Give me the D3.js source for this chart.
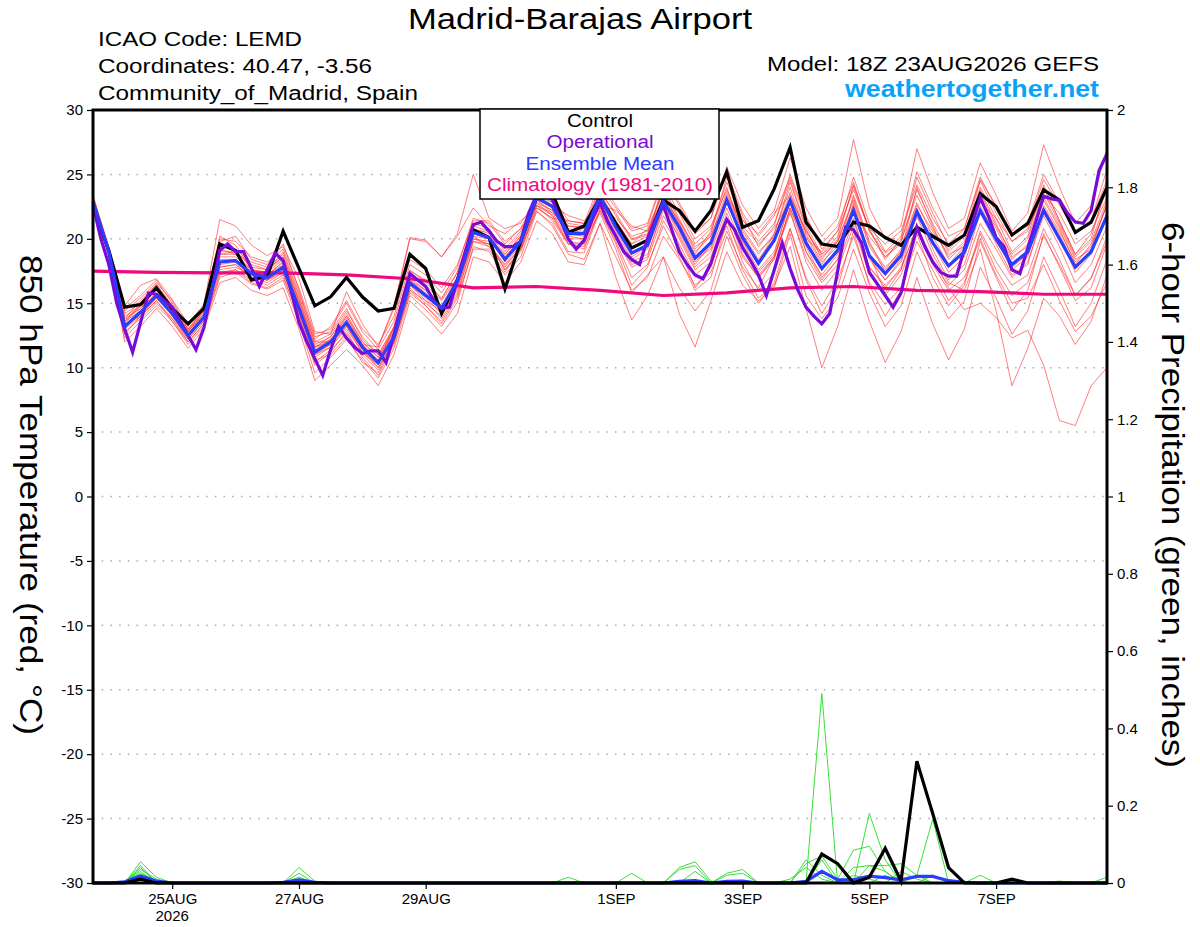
<!DOCTYPE html>
<html>
<head>
<meta charset="utf-8">
<script src="https://cdn.jsdelivr.net/npm/d3@7"></script>
<style>
body { margin: 0; background: #fff; }
text { font-family: "Liberation Sans", Arial, Helvetica, sans-serif; }
</style>
</head>
<body>
<svg id="chart" width="1200" height="927"></svg>
<script>
// ---- data (6-hourly from 18Z 23AUG2026, 65 steps) ----
var runStart = Date.UTC(2026, 7, 23, 18);
var tempTicks = [30, 25, 20, 15, 10, 5, 0, -5, -10, -15, -20, -25, -30];
var precipTicks = [0, 0.2, 0.4, 0.6, 0.8, 1, 1.2, 1.4, 1.6, 1.8, 2];
var tickDays = ["2026-08-25", "2026-08-27", "2026-08-29", "2026-09-01", "2026-09-03", "2026-09-05", "2026-09-07"];
var tickLabels = ["25AUG", "27AUG", "29AUG", "1SEP", "3SEP", "5SEP", "7SEP"];
var legendNames = ["Control", "Operational", "Ensemble Mean", "Climatology (1981-2010)"];

var control = [
  22.4, 19.1, 14.7, 14.9, 16.2, 14.6, 13.4, 14.6, 19.6, 19.1, 16.8, 17.1, 20.6,
  17.7, 14.8, 15.5, 17.0, 15.5, 14.4, 14.6, 18.8, 17.7, 14.2, 16.8, 20.7, 20.1,
  16.1, 19.8, 23.2, 23.5, 20.5, 21.0, 23.2, 21.2, 19.3, 19.9, 23.0, 22.2, 20.6,
  22.2, 25.2, 20.9, 21.4, 23.9, 27.1, 21.3, 19.6, 19.4, 21.3, 21.0, 20.1, 19.5,
  20.9, 20.2, 19.5, 20.3, 23.5, 22.5, 20.3, 21.2, 23.8, 23.0, 20.5, 21.3, 24.0
];
var ensMean = [
  22.9, 19.0, 13.2, 14.3, 15.6, 14.2, 12.5, 13.9, 18.2, 18.3, 17.3, 17.0, 17.8,
  14.6, 11.2, 12.0, 13.5, 11.6, 10.4, 12.4, 16.6, 15.6, 14.6, 16.7, 20.5, 20.1,
  18.4, 19.8, 23.2, 22.5, 20.4, 20.4, 23.3, 20.9, 18.9, 19.5, 22.9, 20.9, 18.5,
  19.7, 23.0, 20.1, 18.1, 19.9, 23.0, 19.7, 17.7, 19.1, 22.2, 18.7, 17.3, 18.7,
  22.1, 19.7, 17.9, 19.0, 22.2, 20.0, 18.0, 19.0, 22.2, 20.0, 17.8, 19.0, 21.8
];
// operational run is 3-hourly (129 steps)
var operational = [
  22.6, 20.0, 18.0, 15.0, 13.0, 11.2, 13.5, 15.8, 15.7, 15.2, 14.7, 13.6, 12.5,
  11.4, 13.1, 16.0, 19.1, 19.6, 19.0, 19.0, 17.7, 16.3, 17.6, 18.9, 18.3, 16.0,
  13.5, 12.0, 10.7, 9.4, 11.4, 13.2, 12.3, 11.6, 11.1, 11.3, 11.3, 10.4, 12.6,
  15.0, 17.3, 16.8, 16.3, 15.2, 14.6, 14.7, 16.8, 19.0, 21.1, 21.3, 20.6, 19.8,
  19.4, 19.4, 19.8, 22.0, 23.4, 23.6, 23.0, 21.5, 20.0, 19.2, 19.9, 21.5, 22.8,
  21.3, 20.2, 19.0, 18.4, 18.0, 20.0, 21.5, 22.6, 20.8, 19.0, 18.0, 17.2, 16.9,
  18.1, 20.0, 21.5, 20.7, 19.3, 18.3, 17.2, 15.6, 17.6, 19.7, 17.7, 16.0, 14.7,
  14.0, 13.4, 14.2, 17.5, 20.9, 20.7, 19.7, 17.4, 16.5, 15.6, 14.7, 15.8, 18.5,
  20.9, 19.4, 18.2, 17.4, 17.1, 17.1, 19.2, 21.2, 23.2, 21.8, 20.1, 19.4, 17.6,
  17.3, 19.3, 21.3, 23.3, 23.1, 23.0, 22.0, 21.3, 21.2, 22.2, 25.3, 26.6
];
// climatology, daily at 18Z
var climatology = [17.5, 17.4, 17.35, 17.35, 17.2, 16.9, 16.2, 16.3, 16.0, 15.6, 15.8, 16.2, 16.3, 16.0, 15.9, 15.7, 15.7];

var members = [
  [23.2, 19.3, 14.2, 15.0, 16.5, 14.8, 12.9, 14.5, 20.2, 19.5, 17.6, 17.4, 19.0,
   15.8, 12.4, 12.8, 14.6, 12.2, 11.0, 13.1, 17.5, 16.8, 15.3, 17.4, 21.2, 20.8,
   19.0, 20.4, 23.6, 22.8, 21.0, 20.9, 23.8, 21.8, 19.9, 20.3, 24.2, 22.0, 19.6,
   20.8, 24.4, 21.5, 19.8, 21.2, 24.6, 21.0, 18.8, 20.2, 24.1, 20.6, 18.9, 19.8,
   23.8, 21.2, 19.0, 20.2, 24.5, 22.0, 19.8, 20.6, 24.0, 21.4, 18.8, 20.4, 23.9],
  [22.6, 18.7, 12.3, 13.6, 14.8, 13.6, 11.8, 13.2, 17.0, 17.4, 16.5, 16.1, 16.8,
   13.5, 9.6, 10.8, 12.2, 10.6, 9.2, 11.5, 15.6, 14.5, 13.2, 15.1, 19.4, 19.0,
   17.2, 18.6, 22.1, 21.2, 19.0, 18.9, 22.2, 19.6, 16.4, 17.8, 21.4, 19.4, 16.2,
   17.8, 21.6, 18.2, 16.0, 17.4, 20.8, 17.0, 14.8, 16.8, 20.2, 16.6, 14.9, 16.2,
   19.8, 17.6, 15.2, 16.6, 20.6, 18.2, 16.4, 17.2, 20.8, 18.4, 15.6, 16.9, 20.2],
  [23.4, 19.2, 14.8, 16.4, 16.9, 15.3, 13.4, 14.9, 21.5, 21.0, 19.5, 18.7, 19.4,
   16.9, 12.8, 12.6, 15.9, 13.4, 11.6, 14.8, 20.1, 19.9, 18.6, 20.4, 25.0, 21.6,
   20.8, 21.2, 23.0, 22.6, 21.8, 21.4, 22.8, 21.4, 19.6, 20.8, 23.6, 21.2, 18.8,
   20.6, 24.0, 20.4, 18.4, 20.0, 23.6, 20.2, 18.0, 19.8, 23.0, 19.4, 17.6, 19.2,
   22.8, 20.2, 18.0, 19.4, 23.2, 20.8, 18.4, 19.6, 23.0, 20.8, 18.0, 19.6, 22.6],
  [22.8, 19.0, 13.4, 14.0, 15.4, 14.0, 12.2, 13.6, 17.8, 18.0, 17.0, 16.6, 17.4,
   14.2, 10.8, 11.6, 13.0, 11.2, 10.0, 12.0, 16.2, 15.0, 14.0, 16.2, 20.0, 19.6,
   18.0, 19.2, 22.6, 21.8, 19.8, 19.6, 22.6, 20.4, 18.2, 18.8, 22.2, 20.2, 17.8,
   19.0, 22.4, 19.4, 17.2, 18.6, 22.0, 18.6, 16.6, 18.0, 21.4, 17.8, 16.4, 17.6,
   21.0, 18.4, 16.2, 14.5, 15.0, 13.9, 12.3, 12.9, 10.2, 5.9, 5.5, 8.6, 10.0],
  [23.0, 19.1, 13.0, 14.6, 15.8, 14.4, 12.6, 14.0, 18.6, 18.6, 17.6, 17.2, 18.2,
   14.8, 11.4, 12.2, 13.8, 11.8, 10.6, 12.8, 17.0, 16.0, 14.8, 16.8, 20.6, 20.2,
   18.6, 19.8, 23.0, 22.2, 20.2, 20.0, 22.0, 19.2, 15.8, 17.2, 18.6, 14.2, 11.6,
   15.2, 19.0, 16.4, 15.2, 16.2, 20.4, 15.6, 13.8, 15.4, 19.2, 15.8, 13.2, 14.8,
   19.0, 16.2, 13.8, 15.2, 19.8, 17.0, 14.4, 16.0, 20.4, 17.8, 15.2, 16.2, 19.6],
  [23.1, 19.2, 13.6, 14.8, 16.0, 14.6, 12.8, 14.2, 18.8, 19.0, 17.8, 17.6, 18.6,
   15.2, 11.8, 12.4, 14.2, 12.0, 10.8, 13.0, 17.2, 16.4, 15.2, 17.0, 20.8, 20.4,
   18.8, 20.2, 23.4, 22.8, 21.2, 21.0, 24.0, 22.4, 20.6, 21.0, 24.6, 22.6, 20.4,
   21.6, 25.6, 22.6, 20.8, 22.2, 26.3, 22.4, 20.2, 21.6, 27.7, 22.4, 20.0, 21.0,
   27.0, 23.6, 20.8, 21.6, 25.9, 23.4, 20.6, 22.0, 27.3, 24.0, 21.2, 22.6, 27.0],
  [22.7, 18.8, 12.8, 13.8, 15.0, 13.8, 12.0, 13.4, 17.4, 17.6, 16.8, 16.4, 17.2,
   13.8, 10.2, 11.2, 12.8, 10.8, 9.4, 11.8, 16.0, 15.2, 14.4, 16.4, 20.0, 19.8,
   17.6, 19.0, 22.4, 21.6, 19.6, 19.2, 22.4, 20.0, 17.8, 18.4, 21.8, 19.6, 17.2,
   18.2, 21.0, 17.6, 15.4, 16.4, 19.4, 14.6, 10.0, 13.2, 17.6, 13.6, 10.4, 12.8,
   17.0, 13.4, 10.6, 13.0, 17.8, 15.4, 12.6, 14.4, 18.6, 16.0, 13.2, 15.0, 18.4],
  [23.0, 19.0, 13.8, 15.2, 16.4, 14.8, 13.0, 14.4, 19.4, 19.2, 18.2, 17.8, 18.8,
   15.6, 12.0, 12.0, 13.4, 11.4, 10.2, 12.6, 16.8, 15.8, 14.6, 16.6, 20.6, 20.6,
   18.2, 20.0, 23.8, 23.0, 20.8, 20.4, 23.2, 21.0, 18.6, 19.4, 23.2, 21.0, 18.6,
   19.6, 23.4, 20.6, 18.8, 20.4, 24.0, 20.4, 18.2, 19.4, 22.6, 18.6, 16.8, 18.2,
   21.8, 18.8, 16.6, 16.0, 19.2, 14.4, 8.6, 11.5, 15.4, 14.0, 11.8, 13.6, 17.2],
  [22.5, 18.6, 12.0, 13.2, 14.6, 13.2, 11.5, 13.0, 16.6, 17.0, 16.0, 15.6, 16.2,
   13.0, 9.0, 10.2, 11.4, 10.2, 8.6, 11.0, 15.2, 14.0, 12.6, 14.2, 18.6, 18.2,
   16.6, 18.2, 21.4, 20.4, 18.2, 18.0, 21.2, 18.6, 16.0, 17.0, 20.2, 18.4, 16.4,
   17.4, 20.6, 17.8, 16.2, 18.6, 22.4, 19.0, 17.2, 18.8, 21.6, 17.8, 16.2, 17.8,
   20.8, 18.2, 16.4, 17.6, 21.2, 19.2, 17.0, 18.2, 21.8, 19.4, 16.6, 18.0, 21.0],
  [23.3, 19.4, 14.6, 15.6, 16.8, 15.0, 13.2, 14.8, 20.0, 19.8, 18.6, 18.2, 19.2,
   16.2, 12.6, 13.0, 15.0, 12.8, 11.4, 13.6, 18.0, 17.2, 15.8, 17.8, 21.6, 21.2,
   19.6, 20.8, 23.2, 22.4, 20.6, 20.6, 23.6, 22.0, 20.0, 20.4, 24.0, 21.6, 19.2,
   20.4, 24.8, 21.8, 19.4, 21.0, 25.0, 21.8, 19.2, 20.6, 24.8, 21.2, 19.0, 20.2,
   25.2, 22.4, 20.2, 20.8, 24.6, 22.6, 20.2, 21.2, 25.0, 22.8, 20.4, 21.4, 25.4],
  [22.9, 19.0, 13.6, 14.4, 15.8, 14.4, 12.6, 14.0, 18.4, 18.4, 17.4, 17.2, 18.0,
   14.8, 11.6, 12.2, 13.6, 11.8, 11.6, 14.6, 20.0, 19.8, 18.6, 20.2, 22.4, 21.0,
   20.4, 21.4, 22.4, 21.6, 21.4, 21.2, 22.6, 22.2, 21.0, 20.6, 23.0, 21.4, 19.4,
   20.2, 23.2, 21.4, 20.4, 22.0, 23.4, 20.6, 18.8, 19.8, 22.0, 20.2, 18.6, 19.6,
   21.6, 20.4, 19.2, 20.4, 22.8, 21.6, 19.8, 20.8, 23.4, 22.0, 19.6, 20.6, 23.2],
  [23.1, 19.1, 13.2, 14.2, 15.4, 14.2, 12.4, 13.8, 17.6, 17.8, 17.2, 16.8, 17.6,
   14.0, 10.4, 11.4, 12.6, 11.0, 9.8, 12.2, 16.4, 15.4, 14.2, 16.0, 20.2, 19.4,
   17.8, 19.4, 22.8, 22.2, 20.4, 20.2, 23.4, 21.2, 19.2, 19.8, 23.4, 21.2, 18.4,
   19.2, 23.0, 19.8, 17.6, 19.0, 22.8, 19.4, 17.0, 18.4, 22.2, 18.4, 16.8, 18.4,
   22.4, 19.6, 17.4, 18.6, 22.6, 20.0, 17.6, 18.6, 22.4, 20.2, 17.4, 18.8, 22.0],
  [22.8, 18.9, 13.0, 14.0, 15.2, 13.8, 12.2, 13.6, 17.8, 18.0, 17.0, 16.8, 17.4,
   14.4, 11.0, 11.8, 13.2, 11.4, 10.0, 12.0, 16.0, 14.8, 13.6, 15.6, 19.8, 19.4,
   18.0, 19.6, 23.0, 22.0, 20.0, 20.0, 22.8, 20.6, 18.4, 19.2, 22.6, 20.4, 18.0,
   19.6, 22.8, 20.0, 18.2, 20.4, 24.4, 20.8, 18.4, 20.0, 24.2, 20.8, 18.4, 20.0,
   24.8, 22.0, 19.4, 20.2, 24.0, 21.6, 19.0, 20.2, 24.2, 21.4, 18.8, 20.0, 24.4],
  [23.0, 19.1, 13.8, 14.6, 16.2, 14.6, 12.8, 14.2, 18.8, 18.8, 17.6, 17.4, 18.4,
   15.0, 11.6, 12.4, 14.0, 12.0, 10.8, 12.8, 16.8, 16.0, 14.8, 17.0, 20.8, 20.2,
   18.6, 20.0, 23.4, 22.6, 20.6, 20.4, 23.0, 20.8, 18.8, 19.4, 22.4, 20.0, 17.6,
   18.6, 22.0, 18.8, 17.0, 18.6, 22.2, 18.2, 16.0, 17.6, 21.0, 17.2, 15.6, 17.2,
   20.6, 18.0, 16.0, 17.0, 20.0, 17.2, 15.0, 15.4, 18.0, 15.2, 12.8, 14.0, 16.6],
  [22.6, 18.8, 13.4, 14.8, 15.6, 14.0, 12.4, 13.8, 18.2, 18.4, 17.2, 16.8, 17.6,
   14.6, 11.2, 11.8, 13.4, 11.6, 10.4, 12.4, 16.4, 15.6, 14.4, 16.4, 20.4, 20.0,
   18.4, 19.8, 23.6, 23.2, 21.4, 21.2, 24.4, 22.6, 20.8, 21.2, 24.8, 22.8, 20.6,
   21.6, 25.2, 22.0, 20.2, 21.8, 24.8, 21.6, 19.6, 21.0, 24.4, 20.6, 18.6, 19.8,
   23.4, 20.8, 18.6, 19.8, 23.6, 21.0, 18.8, 20.0, 23.6, 21.2, 18.6, 19.8, 23.0],
  [23.2, 19.2, 14.0, 14.8, 16.2, 14.6, 12.6, 14.2, 19.0, 19.0, 18.0, 17.6, 18.6,
   15.4, 12.0, 12.6, 14.4, 12.4, 11.0, 13.2, 17.6, 16.6, 15.4, 17.4, 21.0, 20.6,
   19.2, 20.6, 22.8, 21.8, 19.6, 19.4, 22.2, 19.8, 17.0, 18.0, 21.0, 18.6, 16.0,
   17.0, 21.4, 18.6, 17.0, 18.4, 22.4, 19.6, 17.6, 19.0, 23.4, 19.8, 17.4, 19.0,
   24.0, 21.0, 18.4, 19.6, 23.8, 21.2, 18.6, 19.4, 23.2, 21.0, 18.4, 19.2, 22.8],
  [23.0, 19.0, 14.4, 15.4, 16.6, 15.2, 13.0, 14.6, 19.8, 20.2, 18.4, 18.0, 19.6,
   16.0, 12.2, 13.2, 15.2, 13.0, 11.8, 14.0, 18.4, 17.6, 16.2, 18.0, 21.4, 21.4,
   19.8, 20.8, 22.6, 22.0, 21.0, 20.8, 22.4, 21.6, 20.2, 20.6, 23.2, 22.2, 20.0,
   21.0, 23.8, 21.0, 19.6, 20.8, 23.0, 20.0, 19.0, 20.6, 23.8, 20.8, 19.6, 20.6,
   24.2, 21.6, 19.6, 20.8, 24.8, 22.4, 20.4, 21.0, 24.6, 22.6, 20.6, 21.4, 24.6],
  [22.8, 18.9, 13.2, 14.4, 15.6, 14.2, 12.4, 13.8, 18.0, 18.2, 17.0, 16.8, 17.8,
   14.4, 11.0, 11.6, 13.2, 11.2, 10.2, 12.2, 16.4, 15.2, 13.8, 15.8, 19.8, 19.6,
   17.6, 19.2, 22.2, 21.0, 18.8, 18.4, 21.2, 17.0, 13.7, 15.6, 18.6, 16.2, 14.4,
   16.0, 20.2, 17.2, 15.0, 16.6, 20.8, 16.8, 14.2, 16.2, 20.6, 16.4, 14.0, 16.0,
   20.4, 17.0, 14.8, 16.4, 20.4, 17.6, 15.6, 16.6, 20.2, 18.0, 15.6, 17.0, 19.8],
  [23.1, 19.2, 13.6, 15.0, 16.0, 14.4, 12.8, 14.4, 19.2, 18.8, 17.4, 17.2, 18.2,
   15.2, 11.6, 12.0, 14.0, 11.8, 10.4, 13.2, 17.2, 16.2, 14.8, 16.8, 20.2, 20.0,
   18.8, 20.2, 23.2, 22.6, 20.6, 20.8, 23.6, 21.4, 19.6, 20.2, 23.8, 21.4, 19.0,
   20.2, 23.6, 20.8, 19.0, 20.2, 23.2, 20.6, 18.6, 19.8, 23.2, 19.6, 17.8, 19.0,
   22.6, 20.6, 18.8, 19.4, 22.4, 19.8, 17.8, 18.8, 22.6, 20.6, 18.2, 19.4, 22.6],
  [22.7, 18.8, 12.6, 14.0, 15.2, 13.6, 12.0, 13.4, 17.2, 17.6, 16.6, 16.2, 17.0,
   14.0, 10.6, 11.0, 12.4, 10.4, 9.6, 12.0, 15.8, 14.8, 13.4, 15.4, 19.2, 19.2,
   17.4, 19.2, 22.6, 21.4, 19.6, 19.6, 22.8, 20.2, 18.0, 18.6, 22.6, 20.6, 18.2,
   19.4, 23.2, 19.6, 17.4, 18.8, 23.0, 19.0, 16.8, 18.4, 22.8, 18.8, 15.8, 17.6,
   22.2, 19.2, 16.8, 18.0, 22.0, 19.6, 17.2, 18.0, 22.4, 20.4, 17.8, 19.0, 21.6]
];

// 6-hour precipitation (inches); listed as [step, amount], every other step is 0
var controlPrecip = [[3, 0.01], [46, 0.075], [47, 0.05], [49, 0.015], [50, 0.09], [51, 0.005], [52, 0.315], [53, 0.18], [54, 0.04], [58, 0.01]];
var meanPrecip = [[2, 0.003], [3, 0.018], [4, 0.005], [12, 0.002], [13, 0.008], [14, 0.002], [37, 0.004], [38, 0.006], [40, 0.004], [41, 0.005],
  [45, 0.004], [46, 0.03], [47, 0.008], [48, 0.008], [49, 0.018], [50, 0.014], [51, 0.008], [52, 0.017], [53, 0.017], [54, 0.006], [55, 0.002]];
var memberPrecip = [
  [[3, 0.055], [4, 0.015], [13, 0.04], [14, 0.005], [46, 0.49]],
  [[3, 0.045], [13, 0.025], [37, 0.04], [38, 0.055], [39, 0.005], [49, 0.18], [50, 0.06]],
  [[3, 0.04], [13, 0.015], [30, 0.015], [37, 0.035], [38, 0.045], [45, 0.05], [46, 0.07], [47, 0.01], [48, 0.085], [49, 0.095], [50, 0.03]],
  [[3, 0.035], [4, 0.01], [34, 0.025], [40, 0.025], [41, 0.035], [45, 0.06], [46, 0.02], [52, 0.02], [53, 0.165]],
  [[3, 0.03], [13, 0.01], [40, 0.02], [41, 0.025], [48, 0.04], [49, 0.045], [50, 0.045], [51, 0.05], [52, 0.02]],
  [[3, 0.025], [4, 0.005], [38, 0.03], [46, 0.06], [48, 0.02], [49, 0.01], [51, 0.03], [52, 0.01], [56, 0.02]],
  [[3, 0.02], [13, 0.01], [44, 0.01], [45, 0.04], [46, 0.01], [50, 0.02], [64, 0.015]],
  [[2, 0.005], [3, 0.015], [49, 0.045], [50, 0.03], [53, 0.02], [61, 0.005]]
];

// ---- layout ----
var svg = d3.select("#chart");
var L = 93, R = 1107, T = 110, B = 883;

var x = d3.scaleUtc().domain([new Date(runStart), new Date(runStart + 384 * 3600e3)]).range([L, R]);
var yT = d3.scaleLinear().domain([-30, 30]).range([B, T]);
var yP = d3.scaleLinear().domain([0, 2]).range([B, T]);

function timeAt(i, hrs) { return new Date(runStart + i * hrs * 3600e3); }
function fullSeries(pairs) {
  var s = d3.range(65).map(function() { return 0; });
  pairs.forEach(function(p) { s[p[0]] = p[1]; });
  return s;
}

// dotted grid at temperature ticks
svg.append("g").selectAll("line")
  .data(tempTicks.filter(function(d) { return d > -30 && d < 30; }))
  .enter().append("line")
  .attr("x1", L).attr("x2", R)
  .attr("y1", function(d) { return yT(d); }).attr("y2", function(d) { return yT(d); })
  .attr("stroke", "#aaa").attr("stroke-width", 1.5).attr("stroke-dasharray", "1.5,7.2");

var lineT6 = d3.line().x(function(d, i) { return x(timeAt(i, 6)); }).y(function(d) { return yT(d); });
var lineT3 = d3.line().x(function(d, i) { return x(timeAt(i, 3)); }).y(function(d) { return yT(d); });
var lineP = d3.line().x(function(d, i) { return x(timeAt(i, 6)); }).y(function(d) { return yP(d); });
var lineClim = d3.line().x(function(d, i) { return x(timeAt(i, 24)); }).y(function(d) { return yT(d); });

// ensemble members
svg.append("g").selectAll("path").data(members).enter().append("path")
  .attr("d", lineT6).attr("fill", "none")
  .attr("stroke", "#ff2a2a").attr("stroke-width", 0.8).attr("stroke-opacity", 0.75);
svg.append("g").selectAll("path").data(memberPrecip.map(fullSeries)).enter().append("path")
  .attr("d", lineP).attr("fill", "none")
  .attr("stroke", "#22dd22").attr("stroke-width", 0.9);

svg.append("path").datum(climatology).attr("d", lineClim).attr("fill", "none")
  .attr("stroke", "#f0087f").attr("stroke-width", 3.2);

svg.append("path").datum(fullSeries(meanPrecip)).attr("d", lineP).attr("fill", "none")
  .attr("stroke", "#2a3cff").attr("stroke-width", 3.2);
svg.append("path").datum(fullSeries(controlPrecip)).attr("d", lineP).attr("fill", "none")
  .attr("stroke", "#000").attr("stroke-width", 3.2);

svg.append("path").datum(control).attr("d", lineT6).attr("fill", "none")
  .attr("stroke", "#000").attr("stroke-width", 3.2).attr("stroke-linejoin", "miter");
svg.append("path").datum(operational).attr("d", lineT3).attr("fill", "none")
  .attr("stroke", "#7a0ad8").attr("stroke-width", 3.2);
svg.append("path").datum(ensMean).attr("d", lineT6).attr("fill", "none")
  .attr("stroke", "#2a3cff").attr("stroke-width", 3.2);

// frame
svg.append("rect").attr("x", L).attr("y", T).attr("width", R - L).attr("height", B - T)
  .attr("fill", "none").attr("stroke", "#000").attr("stroke-width", 3);

// axes
var gl = svg.append("g").attr("transform", "translate(" + L + ",0)")
  .call(d3.axisLeft(yT).tickValues(tempTicks).tickSize(6).tickPadding(4).tickFormat(function(d) { return String(d); }));
var gr = svg.append("g").attr("transform", "translate(" + R + ",0)")
  .call(d3.axisRight(yP).tickValues(precipTicks).tickSize(6).tickPadding(4).tickFormat(function(d) { return String(d); }));
var gb = svg.append("g").attr("transform", "translate(0," + B + ")")
  .call(d3.axisBottom(x).tickValues(tickDays.map(function(d) { return new Date(d + "T00:00:00Z"); }))
    .tickSize(6).tickPadding(4).tickFormat(function(d, i) { return tickLabels[i]; }));
[gl, gr, gb].forEach(function(g) {
  g.select(".domain").remove();
  g.selectAll(".tick line").attr("stroke", "#000").attr("stroke-width", 1.2);
  g.selectAll(".tick text").attr("fill", "#000").style("font-size", "15px")
    .style("font-family", "'Liberation Sans', Arial, sans-serif");
});
gb.selectAll(".tick text").attr("dy", "0.71em");
svg.append("text").attr("x", x(new Date(tickDays[0] + "T00:00:00Z"))).attr("y", 921)
  .attr("text-anchor", "middle").style("font-size", "15px").text("2026");

// legend
var leg = svg.append("g");
leg.append("rect").attr("x", 480).attr("y", T - 1).attr("width", 239).attr("height", 90)
  .attr("fill", "#fff").attr("stroke", "#000").attr("stroke-width", 1.5);
var legColors = ["#000", "#7a0ad8", "#2a3cff", "#f0087f"];
var legWidths = [66, 107, 149, 226];
leg.selectAll("text").data(legendNames).enter().append("text")
  .attr("x", function(d, i) { return 600 - legWidths[i] / 2; })
  .attr("y", function(d, i) { return 127 + i * 21.3; })
  .attr("textLength", function(d, i) { return legWidths[i]; })
  .attr("lengthAdjust", "spacingAndGlyphs")
  .attr("fill", function(d, i) { return legColors[i]; })
  .style("font-size", "18px").text(function(d) { return d; });

// headers
function label(txt, xx, yy, size, len, opts) {
  opts = opts || {};
  return svg.append("text").attr("x", xx).attr("y", yy).text(txt)
    .attr("textLength", len).attr("lengthAdjust", "spacingAndGlyphs")
    .attr("fill", opts.fill || "#000").attr("transform", opts.transform || null)
    .style("font-size", size + "px").style("font-weight", opts.bold ? "bold" : "normal");
}
label("Madrid-Barajas Airport", 408, 29, 29, 344);
label("ICAO Code: LEMD", 98, 46, 20, 204);
label("Coordinates: 40.47, -3.56", 98, 73, 20, 274);
label("Community_of_Madrid, Spain", 98, 100, 20, 320);
label("Model: 18Z 23AUG2026 GEFS", 767, 71, 20, 332);
label("weathertogether.net", 845, 97, 23, 254, { bold: true, fill: "#0aa2f7" });
label("850 hPa Temperature (red, \u00B0C)", 0, 0, 31, 480, { transform: "translate(20,255) rotate(90)" });
label("6-hour Precipitation (green, inches)", 0, 0, 31, 546, { transform: "translate(1162,222) rotate(90)" });
</script>
</body>
</html>
